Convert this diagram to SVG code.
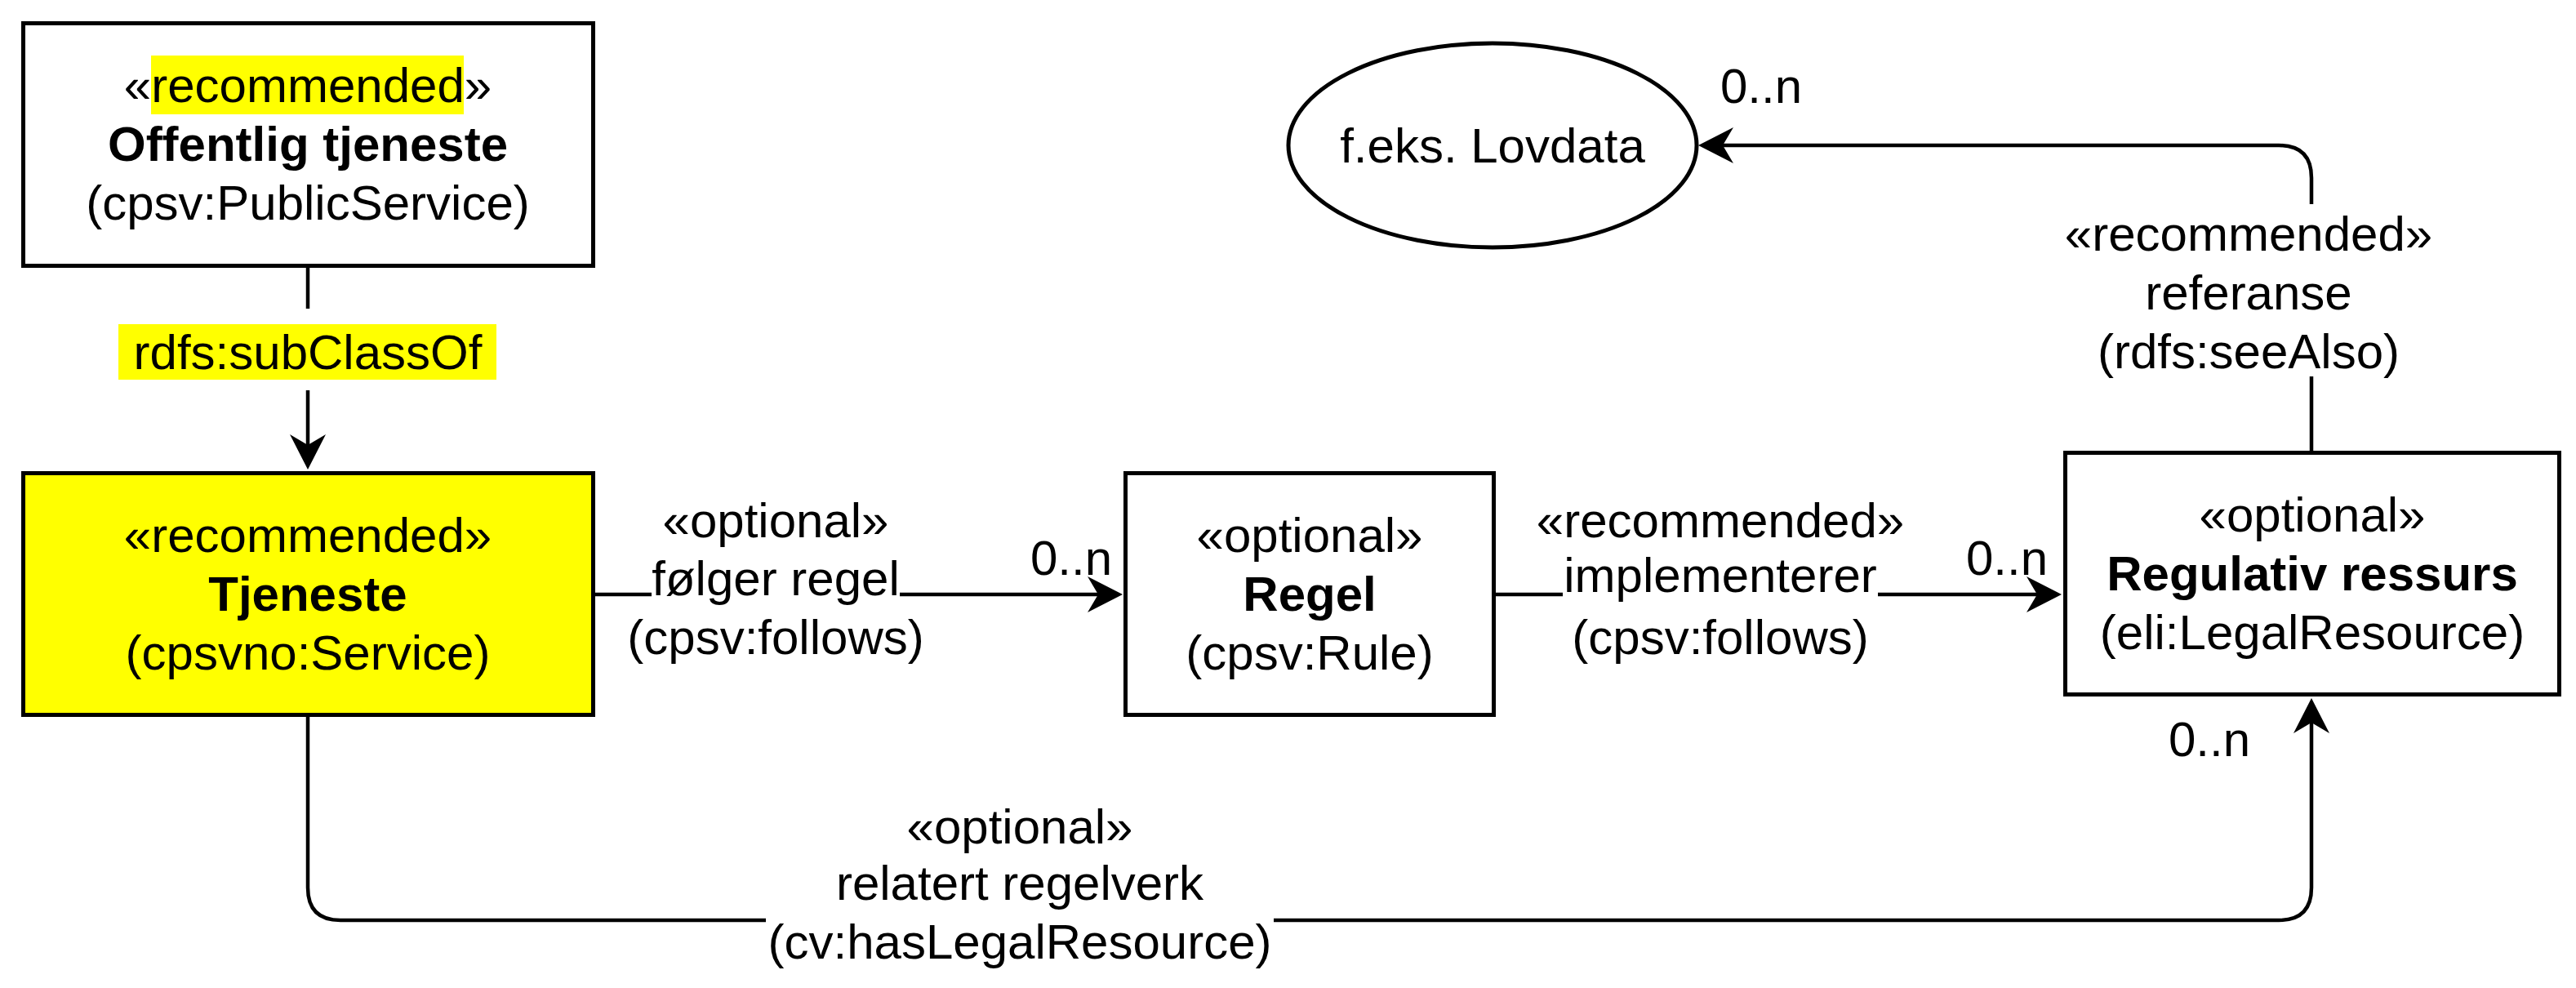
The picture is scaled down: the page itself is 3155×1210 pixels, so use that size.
<svg xmlns="http://www.w3.org/2000/svg" width="3155" height="1210" viewBox="0 0 3155 1210">
<style>
.box{fill:#fff;stroke:#000;stroke-width:5}
.yel{fill:#ffff00}
.t{font-family:"Liberation Sans",Arial,Helvetica,sans-serif;font-size:60px;text-anchor:middle;dominant-baseline:central;fill:#000}
.b{font-weight:bold}
.e{fill:none;stroke:#000;stroke-width:4.5}
.bg{fill:#fff}
</style>
<defs>
<marker id="arr" markerUnits="userSpaceOnUse" markerWidth="44" markerHeight="44" refX="13" refY="22" orient="auto" overflow="visible">
<path d="M0,0 L43,22 L0,44 L13,22 Z" fill="#000"/>
</marker>
</defs>
<rect width="3155" height="1210" fill="#fff"/>

<g id="connectors">
<g id="e-subclass">
<path class="e" d="M377,326 L377,545" marker-end="url(#arr)"/>
<rect class="bg" x="145" y="378" width="464" height="100"/>
<rect class="yel" x="145" y="397" width="463" height="68"/>
<text class="t" x="377" y="431">rdfs:subClassOf</text>
</g>
<g id="e-follows">
<path class="e" d="M728,728 L1345,728" marker-end="url(#arr)"/>
<rect class="bg" x="798" y="672" width="304" height="72"/>
<text class="t" x="950" y="637">«optional»</text>
<text class="t" x="950" y="708">følger regel</text>
<text class="t" x="950" y="780">(cpsv:follows)</text>
<text class="t" x="1312" y="683">0..n</text>
</g>
<g id="e-implements">
<path class="e" d="M1830,728 L2495,728" marker-end="url(#arr)"/>
<rect class="bg" x="1914" y="668" width="386" height="72"/>
<text class="t" x="2107" y="637">«recommended»</text>
<text class="t" x="2107" y="704">implementerer</text>
<text class="t" x="2107" y="780">(cpsv:follows)</text>
<text class="t" x="2458" y="683">0..n</text>
</g>
<g id="e-seealso">
<path class="e" d="M2831,552 L2831,218 Q2831,178 2791,178 L2110,178" marker-end="url(#arr)"/>
<rect class="bg" x="2600" y="250" width="300" height="211"/>
<text class="t" x="2754" y="286">«recommended»</text>
<text class="t" x="2754" y="358">referanse</text>
<text class="t" x="2754" y="430">(rdfs:seeAlso)</text>
<text class="t" x="2157" y="105">0..n</text>
</g>
<g id="e-legal">
<path class="e" d="M377,877 L377,1087 Q377,1127 417,1127 L2791,1127 Q2831,1127 2831,1087 L2831,885" marker-end="url(#arr)"/>
<rect class="bg" x="938" y="1117" width="622" height="72"/>
<text class="t" x="1249" y="1012">«optional»</text>
<text class="t" x="1249" y="1081">relatert regelverk</text>
<text class="t" x="1249" y="1153">(cv:hasLegalResource)</text>
<text class="t" x="2706" y="905">0..n</text>
</g>
</g>

<g id="n-offentlig">
<rect class="box" x="28.5" y="28.5" width="698" height="297"/>
<rect class="yel" x="185" y="68" width="383" height="72"/>
<text class="t" x="377" y="104">«recommended»</text>
<text class="t b" x="377" y="176">Offentlig tjeneste</text>
<text class="t" x="377" y="248">(cpsv:PublicService)</text>
</g>

<g id="n-tjeneste">
<rect class="box" x="28.5" y="579.5" width="698" height="296" style="fill:#ffff00"/>
<text class="t" x="377" y="655">«recommended»</text>
<text class="t b" x="377" y="727">Tjeneste</text>
<text class="t" x="377" y="799">(cpsvno:Service)</text>
</g>

<g id="n-regel">
<rect class="box" x="1378.5" y="579.5" width="451" height="296"/>
<text class="t" x="1604" y="655">«optional»</text>
<text class="t b" x="1604" y="727">Regel</text>
<text class="t" x="1604" y="799">(cpsv:Rule)</text>
</g>

<g id="n-regulativ">
<rect class="box" x="2529.5" y="554.5" width="605" height="296"/>
<text class="t" x="2832" y="630">«optional»</text>
<text class="t b" x="2832" y="702">Regulativ ressurs</text>
<text class="t" x="2832" y="774">(eli:LegalResource)</text>
</g>

<g id="n-lovdata">
<ellipse cx="1828" cy="178" rx="250" ry="125" fill="#fff" stroke="#000" stroke-width="5"/>
<text class="t" x="1828" y="178">f.eks. Lovdata</text>
</g>
</svg>
